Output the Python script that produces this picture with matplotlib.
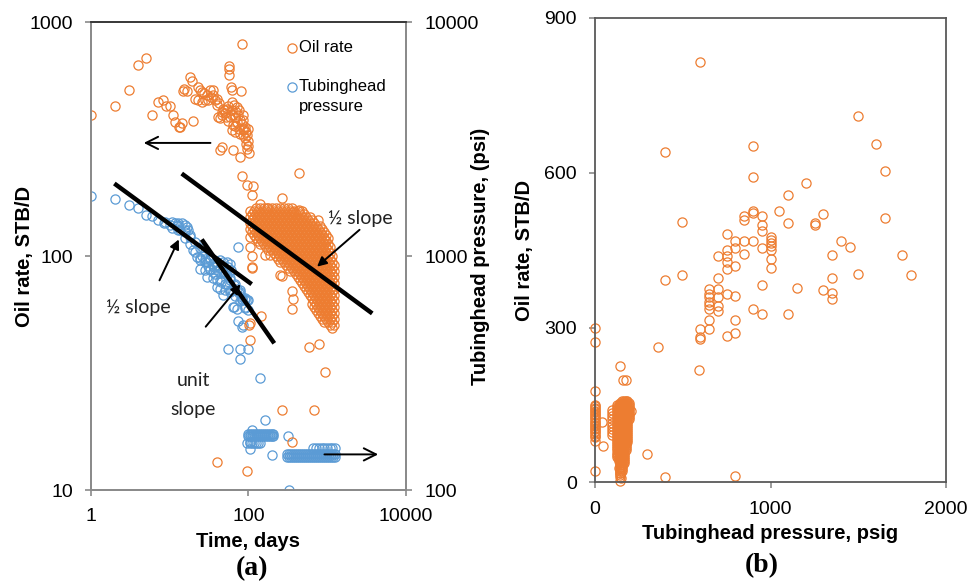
import matplotlib
matplotlib.use('Agg')
import matplotlib.pyplot as plt
from matplotlib.ticker import NullLocator

plt.rcParams['font.family'] = ['Liberation Sans', 'DejaVu Sans']

orange = '#ED7D31'
blue = '#5B9BD5'

# ---- panel (a): oil rate vs time (STB/D), scattered points
oil_t = [1, 2.0, 3.0, 4.0, 5.0, 6.0, 7.0, 8.1, 8.9, 10,
         11.1, 11.8, 13, 14.2, 13.5, 20,
         15.3, 16.4, 14.9, 18, 19, 22.6, 24.2, 25.4, 21, 23, 25.4,
         29.5, 32.4, 35, 35.6, 30.8, 28, 37.4, 39.5, 48, 50.4, 45.8, 52.8,
         61, 65, 71, 61, 58, 67, 74, 78, 86, 82, 71, 64,
         90, 86, 94, 78, 67, 61, 41.6, 45.8, 50, 43.5,
         90, 99, 95, 102, 92, 45.8, 43.5, 64, 78, 82,
         56, 57, 57, 59.6, 61, 80, 83,
         27, 33, 40, 42, 55, 70, 75, 85, 88, 96, 100, 98, 84, 76, 68, 55, 52, 62,
         95, 115, 440, 264, 140, 170, 110, 104, 104, 110, 104, 162, 251, 353,
         372, 353, 144, 102, 104, 590, 785, 936, 264, 686, 358, 40, 97,
         770, 936, 372, 440, 110, 187, 264, 110]
oil_q = [402, 438, 514, 658, 706, 403, 455, 467, 440, 440,
         400, 375, 356, 370, 358, 378,
         520, 507, 508, 581, 560, 530, 516, 505, 472, 464, 456,
         488, 512, 516, 488, 464, 464, 464, 441, 428, 421, 414, 428,
         456, 441, 434, 421, 395, 395, 401, 381, 381, 369, 375, 363,
         358, 345, 339, 333, 339, 345, 395, 401, 408, 389,
         319, 297, 288, 276, 302, 292, 284, 284, 266, 220,
         648, 630, 593, 530, 512, 507, 810,
         500, 480, 470, 450, 440, 415, 420, 400, 350, 330, 310, 350, 330, 350, 360, 380, 395, 400,
         201, 200, 226, 177, 167, 160, 182, 121, 109, 89, 52, 101, 83, 71,
         65.5, 59.5, 55.4, 51, 44, 41, 42, 32, 22, 22, 16, 13.2, 12,
         143, 117, 155, 157, 100, 101, 82, 90]

# dense late-time oil rate cloud: rate levels and (time, highest rate, lowest rate) per column
oil_levels = [165.2, 160.3, 155.7, 151.2, 146.8, 142.5, 138.4, 134.4, 130.5, 126.6,
              122.9, 119.4, 115.9, 112.5, 109.3, 106.1, 103, 100, 97.1, 94.3, 91.5,
              88.9, 86.3, 83.8, 81.4, 79.0, 76.7, 74.4, 72.3, 70.2, 68.1, 66.1, 64.2,
              62.4, 60.5, 58.8, 57.1, 55.4, 53.8, 52.2, 50.7, 49.2, 47.8]
oil_cols = [(104, 157, 124), (111, 158.5, 121.6), (117, 160, 119.4), (124.5, 162, 117),
            (132, 163.6, 114.7), (140, 165, 112.5), (148, 165, 111.4), (157, 165, 108.2),
            (167, 165, 106.1), (177, 165, 105), (187.5, 165, 104), (199, 165, 102),
            (211, 163.6, 100), (223.5, 163.6, 98), (237, 163.6, 96.1), (251, 163.6, 94.3),
            (266, 163.6, 92.4), (282, 162, 90.7), (299.5, 162, 89.8), (317, 162, 88),
            (337, 162, 86.3), (357, 162, 84.6), (378, 162, 83), (401, 160, 80.6),
            (425, 160, 79), (451, 158.5, 77.5), (478, 157, 75.2), (507, 155.7, 73),
            (537, 154, 70.2), (570, 151, 67.5), (604, 148, 64.9), (640, 145.5, 61.8),
            (679, 141, 58.8), (720, 138.4, 57.1), (763, 135.7, 55.4), (809, 134.4, 54.3),
            (858, 131.8, 53.3), (909, 129, 52.2), (964, 126.6, 51.7), (1022, 119.4, 50.2),
            (1083, 111.4, 49.2), (1149, 104, 49.2), (1218, 96.1, 50.7)]

# ---- panel (a): tubinghead pressure (psi, right axis)
thp_t = [1, 2, 3, 4, 5, 6, 7.2, 8.4, 10, 11.7, 12.8, 14.2, 15.6, 13.5, 15.6, 17.2,
         18, 19.9, 22, 24.2, 28, 29.5, 32.4, 35.7, 39.5, 43.5, 47.9, 52.9, 58.2,
         24.2, 28, 32.4, 35.7, 39.5, 43.5, 47.9, 52.9,
         29.5, 35.7, 39.5, 45, 52.9, 58.2, 66, 62, 71, 76, 82,
         39.5, 43.5, 50, 47.9, 71, 66, 74, 86, 82, 95,
         74, 58, 78, 82, 90, 64, 90, 82, 55.6, 78, 99.6, 78,
         140, 162, 320, 110, 198, 330, 104, 104, 12.5, 16.5, 26, 31, 37, 55, 60,
         15.6, 15.6, 18.1, 18.1, 20.9, 20.9, 24.2, 24.2, 28, 28, 32.4, 32.4,
         37.5, 37.5, 43.5, 43.5, 50.3, 50.3, 58.2, 58.2, 67.4, 67.4, 78, 78,
         90.3, 90.3, 98.6, 98.6, 8.7, 10.7, 10.7, 12.7, 12.7]
thp_p = [1800, 1760, 1650, 1600, 1500, 1480, 1425, 1390, 1360, 1380, 1390, 1380, 1360,
         1290, 1290, 1290, 1210, 1060, 993, 960, 976, 946, 960, 930, 946, 960, 946,
         946, 930, 884, 870, 884, 858, 870, 844, 858, 830,
         815, 803, 790, 776, 764, 790, 751, 716, 727, 693, 659,
         740, 727, 716, 680, 597, 606, 527, 510, 670, 650,
         1090, 703, 703, 650, 650, 606, 606, 500, 401, 401, 401, 362,
         300, 200, 170, 180, 141, 100, 161, 150, 1340, 1330, 1000, 910, 900, 900, 870,
         1266, 1194, 1229, 1125, 1147, 1040, 1082, 980, 1040, 943, 980, 872,
         943, 838, 889, 790, 855, 760, 806, 716, 760, 675, 716, 642,
         661, 600, 649, 588, 1402, 1402, 1325, 1364, 1289]
bar172_t = [98.6, 104.3, 110.8, 117.4, 124.5, 132, 140, 148.3, 157.3, 166.8, 176.8,
            187.5, 198.8, 204.7]
row159_t = [97, 104, 110, 117, 125, 133, 140]
bar141_t = [308.3, 326.8, 346.5, 367.4, 389.5, 413, 437.8, 464.2, 492.2, 521.8, 553.3,
            586.6, 621.9, 659.2, 699, 741, 785.8, 833.1, 883.1, 936.3, 992.7, 1052,
            1116, 1183, 1254]
row151_t = [660, 720, 780, 850, 920, 1000, 1080, 1160, 1250]

# ---- slope lines (time, oil rate) endpoints
half_slope_upper = ([14.2, 3733], [225.6, 56.9])
half_slope_lower = ([1.98, 109.8], [204.5, 75.9])
unit_slope = ([25.5, 212.7], [117.9, 42.4])

# ---- panel (b): oil rate vs tubinghead pressure
b_p = [599, 1498, 1601, 899, 399, 1650, 899, 1200, 1101, 1051, 899, 899, 850, 850, 950,
       1300, 1650, 498, 1101, 1251, 1251, 950, 950, 751, 1000, 1000, 1000, 1000, 1000,
       798, 798, 850, 899, 1399, 1450, 950, 751, 751, 751, 751, 700, 850, 1350, 1751,
       1000, 1000, 798, 498, 1498, 1802, 1350, 700, 399, 950, 1150, 1300, 1350, 1350,
       650, 650, 650, 650, 650, 650, 700, 700, 700, 700, 751, 798, 798, 899, 950, 1101,
       650, 650, 599, 599, 599, 751, 798, 357, 595, 298, 399, 798,
       0, 0, 0, 48, 42, 0, 143, 162, 175, 205, 140, 150, 145, 135]
b_q = [814, 709, 656, 652, 640, 603, 592, 580, 557, 525, 526, 522, 517, 508, 517,
       520, 513, 505, 503, 503, 499, 499, 487, 482, 475, 470, 463, 458, 451,
       467, 454, 467, 468, 467, 456, 454, 450, 438, 427, 413, 439, 443, 440, 440,
       433, 416, 419, 402, 403, 402, 397, 396, 392, 383, 377, 373, 367, 355,
       374, 366, 359, 350, 343, 336, 374, 360, 341, 333, 366, 362, 315, 336, 326, 326,
       314, 297, 297, 281, 278, 283, 290, 263, 218, 55, 11, 12,
       299, 272, 177, 71, 117, 22, 225, 199, 199, 139, 3, 8, 18, 28]
b_zero_q = [81, 88, 91, 94, 97, 100, 103, 106, 109, 112, 115, 118, 121, 124, 127, 130,
            133, 136, 139, 142, 145, 148, 150]
b_95_q = [140, 134, 128, 122, 116, 110, 104, 98, 92]
b_bar_p = [125, 135, 145, 155, 165, 175, 185, 195]
b_bar_top = [150, 152, 155, 158, 160, 160, 158, 155]
b_bar_bottom = [50, 40, 10, 20, 35, 60, 78, 122]
b_bar_levels = [2, 6, 10, 14, 18, 22, 26, 30, 34, 38, 42, 46, 50, 54, 58, 62, 66, 70,
                74, 78, 82, 86, 90, 94, 98, 102, 106, 110, 114, 118, 122, 126, 130,
                134, 138, 142, 146, 150, 154, 158]

mk = dict(ls='none', marker='o', ms=6.6, mfc='none', mew=0.9)

fig = plt.figure(figsize=(9.7, 5.83), dpi=100)

# ================= panel (a)
ax1 = fig.add_axes([0.0938, 0.1595, 0.3247, 0.8022])
ax2 = ax1.twinx()

dense_t, dense_q = [], []
for i, (t, hi, lo) in enumerate(oil_cols):
    for j, q in enumerate(oil_levels):
        if (i + j) % 2 == 0 and lo <= q <= hi:
            dense_t.append(t)
            dense_q.append(q)

ax2.plot(thp_t, thp_p, color=blue, **mk)
for lev in (170, 174):
    ax2.plot(bar172_t, [lev] * len(bar172_t), color=blue, **mk)
ax2.plot(row159_t, [159] * len(row159_t), color=blue, **mk)
for lev in (139, 143):
    ax2.plot(bar141_t, [lev] * len(bar141_t), color=blue, **mk)
ax2.plot(row151_t, [151] * len(row151_t), color=blue, **mk)

ax1.plot(oil_t, oil_q, color=orange, **mk)
ax1.plot(dense_t, dense_q, color=orange, **mk)

for xs, ys in (half_slope_upper, half_slope_lower, unit_slope):
    ax1.plot(xs, ys, color='black', lw=3.2, solid_capstyle='butt')

ax1.set_zorder(ax2.get_zorder() + 1)
ax1.patch.set_visible(False)

for ax in (ax1, ax2):
    ax.set_xscale('log')
    ax.set_yscale('log')
    ax.xaxis.set_minor_locator(NullLocator())
    ax.yaxis.set_minor_locator(NullLocator())
ax1.set_xlim(1, 10000)
ax1.set_ylim(10, 1000)
ax2.set_ylim(100, 10000)
ax1.set_xticks([1, 100, 10000], labels=['1', '100', '10000'])
ax1.set_yticks([10, 100, 1000], labels=['10', '100', '1000'])
ax2.set_yticks([100, 1000, 10000], labels=['100', '1000', '10000'])
ax2.xaxis.set_minor_locator(NullLocator())

spine_c = '#8a8a8a'
for ax in (ax1, ax2):
    for s in ax.spines.values():
        s.set_color(spine_c)
        s.set_linewidth(1.3)
    ax.tick_params(axis='both', which='major', length=4.5, width=1.2, color=spine_c,
                   labelsize=14, pad=8.5)
ax1.spines['top'].set_color('#333333')

ax1.set_xlabel('Time, days', fontsize=14.5, fontweight='bold', labelpad=5)
ax1.set_ylabel('Oil rate, STB/D', fontsize=14.5, fontweight='bold')
ax1.yaxis.set_label_coords(-0.18, 0.5)
ax2.set_ylabel('Tubinghead pressure, (psi)', fontsize=14.5, fontweight='bold')
ax2.yaxis.set_label_coords(1.205, 0.5)

# arrows to the axes
arr = dict(arrowstyle='->', color='black', lw=1.4, mutation_scale=22)
ax1.annotate('', xy=(4.31, 305), xytext=(35.7, 305), arrowprops=arr)
ax1.annotate('', xy=(4815, 14.2), xytext=(850, 14.2), arrowprops=arr)

# slope annotations
ann = dict(arrowstyle='-|>', color='black', lw=1.4, mutation_scale=14)
tfont = dict(family=['Lato', 'DejaVu Sans'], fontsize=14, color='#222222')
ax1.text(2606, 145, '½ slope', ha='center', va='center', **tfont)
ax1.annotate('', xy=(699, 88.6), xytext=(2737, 132), arrowprops=ann)
ax1.text(3.95, 60.1, '½ slope', ha='center', va='center', **tfont)
ax1.annotate('', xy=(13.5, 120.9), xytext=(7.16, 76.9), arrowprops=ann)
ax1.text(19.9, 25.5, 'unit\nslope', ha='center', va='center', linespacing=1.9, **tfont)
ax1.annotate('', xy=(83.4, 77.4), xytext=(27.2, 48.9), arrowprops=ann)

# legend (drawn by hand so the marker sits on the first text line)
ax1.plot([0.637], [0.9457], transform=ax1.transAxes, color=orange, clip_on=False, **mk)
ax1.plot([0.637], [0.8623], transform=ax1.transAxes, color=blue, clip_on=False, **mk)
ax1.text(0.66, 0.9457, 'Oil rate', transform=ax1.transAxes, fontsize=12, va='center')
ax1.text(0.66, 0.8623, 'Tubinghead', transform=ax1.transAxes, fontsize=12, va='center')
ax1.text(0.66, 0.821, 'pressure', transform=ax1.transAxes, fontsize=12, va='center')

fig.text(252 / 970, 1 - 569 / 583, '(a)', ha='center', va='center',
         family='Liberation Serif', fontweight='bold', fontsize=20)

# ================= panel (b)
bx = fig.add_axes([0.6134, 0.1724, 0.3619, 0.7971])
bx.plot(b_p, b_q, color=orange, **mk)
bx.plot([0] * len(b_zero_q), b_zero_q, color=orange, **mk)
bx.plot([95] * len(b_95_q), b_95_q, color=orange, **mk)
for p, top, bot in zip(b_bar_p, b_bar_top, b_bar_bottom):
    qs = [q for q in b_bar_levels if bot <= q <= top]
    bx.plot([p] * len(qs), qs, color=orange, **mk)
bx.set_xlim(0, 2000)
bx.set_ylim(0, 900)
bx.set_xticks([0, 1000, 2000])
bx.set_yticks([0, 300, 600, 900])
for s in bx.spines.values():
    s.set_color('#595959')
    s.set_linewidth(1.3)
bx.tick_params(axis='both', length=4.5, width=1.2, color='#8a8a8a', labelsize=14, pad=8.5)
bx.set_xlabel('Tubinghead pressure, psig', fontsize=14.5, fontweight='bold', labelpad=5)
bx.set_ylabel('Oil rate, STB/D', fontsize=14.5, fontweight='bold')
bx.yaxis.set_label_coords(-0.174, 0.5)
for ln in bx.lines:
    ln.set_clip_on(False)

fig.text(762 / 970, 1 - 566 / 583, '(b)', ha='center', va='center',
         family='Liberation Serif', fontweight='bold', fontsize=20)

fig.savefig('out.png', dpi=100)
